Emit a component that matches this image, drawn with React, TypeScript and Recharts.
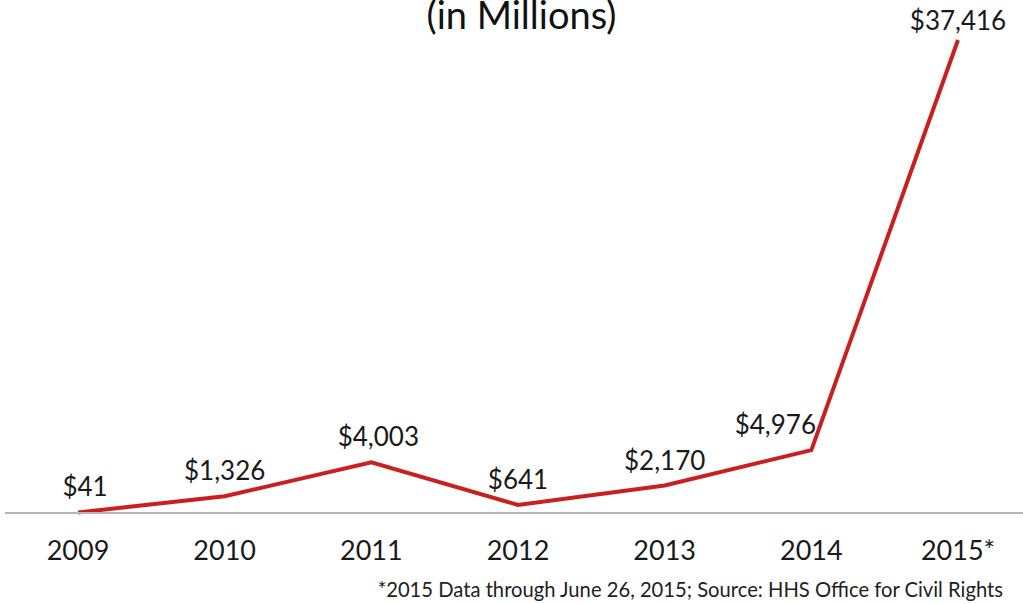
import React from 'react';
import { LineChart, Line, XAxis, YAxis, LabelList } from 'recharts';

const years = ['2009', '2010', '2011', '2012', '2013', '2014', '2015*'];
const amounts = [41, 1326, 4003, 641, 2170, 4976, 37416];
const amountLabels = ['$41', '$1,326', '$4,003', '$641', '$2,170', '$4,976', '$37,416'];

const data = years.map((year, i) => ({ year, amount: amounts[i], label: amountLabels[i] }));

const FONT = 'Lato, "Open Sans", sans-serif';
const RED = '#c9201f';

// labels sit above each point; the 2014 one is nudged left so it clears the steep segment
const ValueLabel = (props: any) => {
  const { x, y, value, index } = props;
  const dx = index === 5 ? -36 : index === 0 || index === 2 ? 7 : 0;
  const dy = index === 6 ? -10 : -16;
  return (
    <text
      x={x + dx}
      y={y + dy}
      textAnchor="middle"
      fontFamily={FONT}
      fontSize={26}
      fill="#1a1a1a"
    >
      {value}
    </text>
  );
};

export default function App() {
  return (
    <div
      style={{
        position: 'absolute',
        left: 0,
        top: 0,
        width: 1023,
        height: 604,
        background: '#fff',
        overflow: 'hidden',
        fontFamily: FONT,
      }}
    >
      <div
        style={{
          position: 'absolute',
          left: 0,
          width: 1023,
          top: -9,
          textAlign: 'center',
          fontSize: 38,
          color: '#111',
          paddingLeft: 10,
        }}
      >
        (in Millions)
      </div>
      <LineChart
        width={1023}
        height={604}
        data={data}
        margin={{ top: 40, right: 0, left: 5, bottom: 61 }}
      >
        <XAxis
          dataKey="year"
          height={30}
          padding={{ left: 73, right: 65 }}
          stroke="#b5b5b5"
          strokeWidth={2}
          tickLine={false}
          tickMargin={22}
          tick={{ fontFamily: FONT, fontSize: 27, fill: '#1a1a1a' }}
        />
        <YAxis hide domain={[0, 37416]} />
        <Line
          type="linear"
          dataKey="amount"
          stroke={RED}
          strokeWidth={4}
          dot={false}
          isAnimationActive={false}
        >
          <LabelList dataKey="label" content={<ValueLabel />} />
        </Line>
      </LineChart>
      <div
        style={{
          position: 'absolute',
          right: 20,
          top: 577,
          fontSize: 20.2,
          color: '#222',
          whiteSpace: 'nowrap',
        }}
      >
        *2015 Data through June 26, 2015; Source: HHS Office for Civil Rights
      </div>
    </div>
  );
}
